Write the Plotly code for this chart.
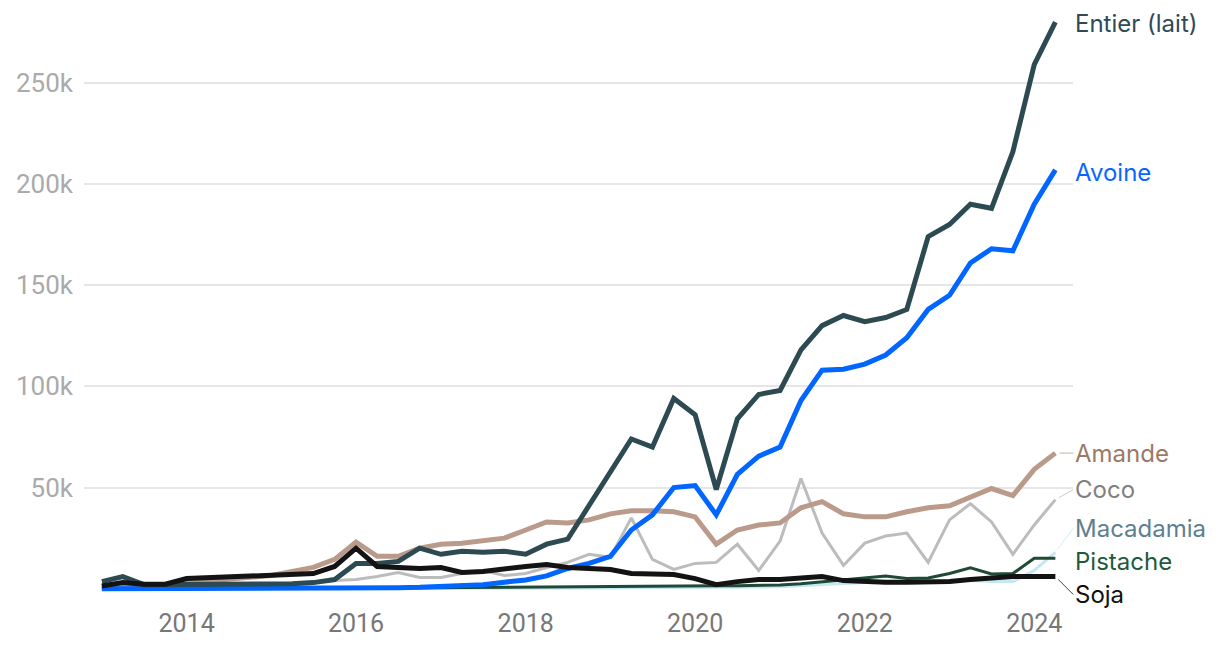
import pandas as pd
import plotly.graph_objects as go

# Quarterly dates 2013-Q1 .. 2024-Q2
dates = pd.date_range("2013-01-01", periods=46, freq="QS")

entier = [3500, 6000, 2000, 2000, 2000, 2000, 2000, 2500, 2500, 2500,
          3000, 4500, 12500, 12500, 13500, 20000, 17000, 18500, 18000, 18500,
          17000, 22000, 24500, 41000, 57000, 74000, 70000, 94000, 86000, 49000,
          84000, 96000, 98000, 118000, 130000, 135000, 132000, 134000, 138000, 174000,
          180000, 190000, 188000, 216000, 259000, 280000]
avoine = [0, 0, 0, 0, 0, 0, 0, 0, 0, 0,
          0, 200, 300, 400, 500, 700, 1000, 1500, 2000, 3200,
          4300, 6300, 10000, 12500, 16000, 29000, 36500, 50000, 51000, 36500,
          56500, 65500, 70000, 93000, 108000, 108500, 111000, 115500, 124000, 138000,
          145000, 161000, 168000, 167000, 190000, 207000]
amande = [1000, 1000, 1500, 2000, 3000, 4000, 5000, 5500, 6500, 8500,
          10500, 14500, 23000, 16000, 16000, 20000, 22000, 22500, 23500, 25000,
          29000, 33000, 32500, 34000, 37000, 38500, 38500, 38000, 35500, 22000,
          29000, 31500, 32500, 40000, 43000, 37000, 35500, 35500, 38000, 40000,
          41000, 45000, 49500, 46000, 59000, 67000]
coco = [1000, 1000, 1000, 1000, 1500, 1500, 2000, 2000, 2000, 2500,
        3000, 4000, 4500, 6000, 8000, 5500, 5500, 7500, 9000, 6500,
        7500, 10500, 13000, 17000, 15500, 35000, 14500, 9500, 12500, 13000,
        22000, 9000, 23500, 54500, 27500, 11500, 22500, 26000, 27500, 13000,
        34000, 42000, 33000, 17000, 31500, 44000]
macadamia = [0, 0, 0, 0, 0, 0, 0, 0, 0, 0,
             0, 0, 0, 0, 0, 0, 300, 300, 300, 300,
             300, 300, 300, 300, 300, 500, 500, 600, 700, 700,
             800, 800, 1000, 1500, 2000, 2500, 3000, 3000, 3500, 3500,
             4000, 4000, 3500, 3500, 9000, 18000]
pistache = [200, 200, 200, 200, 200, 200, 200, 200, 200, 200,
            200, 200, 300, 300, 400, 400, 500, 600, 700, 800,
            900, 1000, 1000, 1100, 1200, 1300, 1300, 1400, 1500, 1500,
            1500, 1500, 1800, 2500, 3500, 4500, 5500, 6300, 5000, 5300,
            7500, 10300, 7300, 7500, 15000, 15000]
soja = [1300, 3000, 2200, 2200, 5000, 5500, 5500, 6000, 6500, 7000,
        7500, 11000, 20000, 11000, 10500, 10000, 10500, 8000, 8500, 10000,
        11000, 12000, 10500, 10000, 9500, 7500, 7500, 7000, 5000, 2000,
        3500, 4500, 4500, 5500, 6000, 4000, 3500, 3200, 3200, 3500,
        3500, 4500, 5500, 6000, 6000, 6000]

names = ["Entier (lait)", "Avoine", "Amande", "Coco", "Macadamia", "Pistache", "Soja"]
series = [entier, avoine, amande, coco, macadamia, pistache, soja]

y_tickvals = [50000, 100000, 150000, 200000, 250000]
y_ticktext = ["50k", "100k", "150k", "200k", "250k"]
x_tickvals = ["2014-01-01", "2016-01-01", "2018-01-01", "2020-01-01", "2022-01-01", "2024-01-01"]
x_ticktext = ["2014", "2016", "2018", "2020", "2022", "2024"]

# styles
line_colors = {"Entier (lait)": "#2d4a53", "Avoine": "#0066ff", "Amande": "#ba9a8a",
               "Coco": "#bcbcbc", "Macadamia": "#c6e7f5", "Pistache": "#1f4a36",
               "Soja": "#131313"}
label_colors = {"Entier (lait)": "#2f4a55", "Avoine": "#0a66ff", "Amande": "#9c7966",
                "Coco": "#808080", "Macadamia": "#5f7f8d", "Pistache": "#1e5a3c",
                "Soja": "#111111"}
widths = {"Entier (lait)": 5, "Avoine": 5, "Amande": 5, "Coco": 3,
          "Macadamia": 3, "Pistache": 3, "Soja": 5}
label_dy = {"Entier (lait)": 1, "Avoine": 3, "Amande": 0, "Coco": -10,
            "Macadamia": -24, "Pistache": 3, "Soja": 18}
show_conn = {"Entier (lait)": False, "Avoine": False, "Amande": True, "Coco": True,
             "Macadamia": True, "Pistache": False, "Soja": True}
draw_order = ["Macadamia", "Pistache", "Coco", "Amande", "Avoine", "Entier (lait)", "Soja"]

data = dict(zip(names, series))

fig = go.Figure()
for n in draw_order:
    fig.add_trace(go.Scatter(
        x=dates, y=data[n], mode="lines", name=n,
        line=dict(color=line_colors[n], width=widths[n]),
        hoverinfo="skip", showlegend=False))

for n in names:
    fig.add_annotation(
        x=dates[-1], y=data[n][-1], xref="x", yref="y",
        text=n, showarrow=True, ax=18, ay=label_dy[n],
        axref="pixel", ayref="pixel",
        xanchor="left", yanchor="middle",
        arrowhead=0, arrowwidth=0.8, standoff=4,
        arrowcolor=line_colors[n] if show_conn[n] else "rgba(0,0,0,0)",
        font=dict(family="Inter, Roboto, sans-serif", size=24, color=label_colors[n]))

# the page body adds an 8px margin around the figure
fig.update_layout(
    width=1204, height=632,
    margin=dict(l=76, r=139, t=2, b=35),
    plot_bgcolor="white", paper_bgcolor="white",
    xaxis=dict(range=["2012-10-16", "2024-06-16"], showgrid=False, zeroline=False,
               showline=False, ticks="", tickvals=x_tickvals, ticktext=x_ticktext,
               tickfont=dict(family="Roboto, sans-serif", size=25, color="#777777"),
               ticklabelstandoff=8),
    yaxis=dict(range=[-4600, 286000], showgrid=True, gridcolor="#e6e6e6", gridwidth=2,
               zeroline=False, showline=False, ticks="",
               tickvals=y_tickvals, ticktext=y_ticktext,
               tickfont=dict(family="Roboto, sans-serif", size=26, color="#aaaaaa"),
               ticklabelstandoff=10),
)

fig.write_html("out.html")
